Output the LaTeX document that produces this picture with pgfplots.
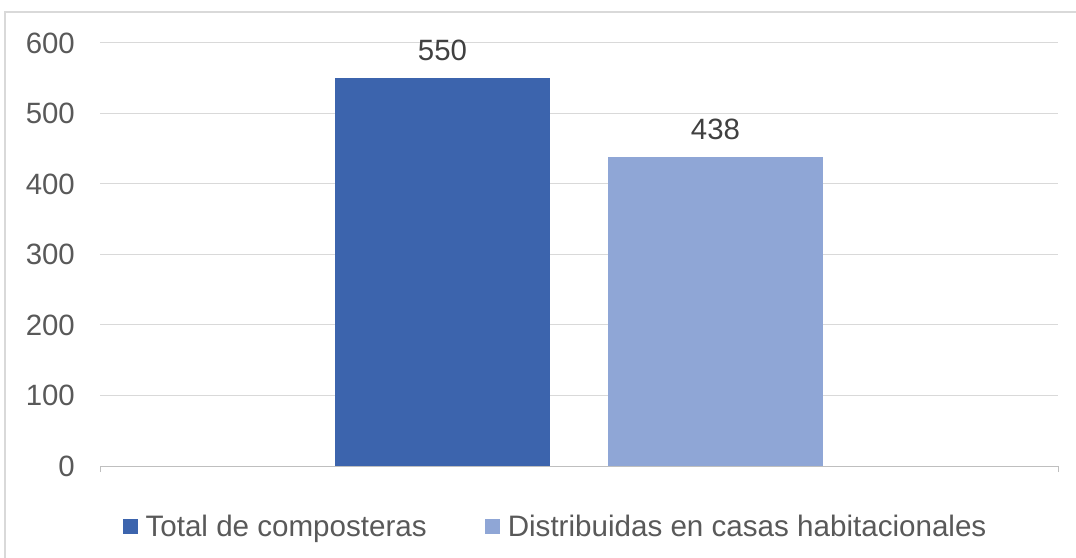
\documentclass[border=0pt]{standalone}
\usepackage{pgfplots}
\pgfplotsset{compat=1.18}
\usepackage{fontspec}
\setmainfont{Liberation Sans}
\definecolor{cone}{HTML}{3C64AD}
\definecolor{ctwo}{HTML}{8FA6D6}
\definecolor{gridc}{HTML}{D9D9D9}
\definecolor{axisc}{HTML}{BFBFBF}
\definecolor{lblc}{HTML}{595959}
\definecolor{datc}{HTML}{404040}
\definecolor{framec}{HTML}{D9D9D9}
\begin{document}
\begin{tikzpicture}
\useasboundingbox (0,0) rectangle (1076bp,558bp);
\clip (0,0) rectangle (1076bp,558bp);
\draw[framec, line width=1.5bp] (5bp,546bp) rectangle (1120bp,-30bp);
\begin{axis}[
  at={(100bp,92bp)}, anchor=south west,
  scale only axis, width=958bp, height=423bp,
  ybar=58bp, bar width=215bp,
  xmin=-1, xmax=1, ymin=0, ymax=600,
  axis x line=bottom, axis y line=left,
  x axis line style={-, draw=axisc, line width=1bp},
  y axis line style={draw=none},
  xtick={-1,1}, xticklabels={},
  x tick style={draw=axisc, line width=1bp},
  tick align=outside, major tick length=6bp,
  ytick={0,100,...,600},
  y tick style={draw=none},
  ymajorgrids, grid style={gridc, line width=1bp},
  y tick label style={font=\fontsize{29.5}{29.5}\selectfont, text=lblc, inner sep=0pt, anchor=east, xshift=-19bp},
  /pgf/number format/assume math mode=true,
  nodes near coords,
  nodes near coords style={font=\fontsize{29.5}{29.5}\selectfont, text=datc, inner sep=0pt, anchor=south, yshift=17bp},
  legend style={draw=none, fill=none, at={(0.4744,-0.144)}, anchor=center,
    legend columns=2, inner sep=0pt,
    nodes={inner sep=0pt, anchor=west},
    font=\fontsize{29.7}{29.7}\selectfont, text=lblc,
    /tikz/every odd column/.append style={column sep=8bp},
    /tikz/every even column/.append style={column sep=58bp}},
  legend image code/.code={\fill[#1,draw=none] (0bp,-7.5bp) rectangle (15bp,7.5bp);},
]
\addplot[fill=cone, draw=none] coordinates {(0,550)};
\addplot[fill=ctwo, draw=none] coordinates {(0,438)};
\legend{Total de composteras, Distribuidas en casas habitacionales}
\end{axis}
\end{tikzpicture}
\end{document}
